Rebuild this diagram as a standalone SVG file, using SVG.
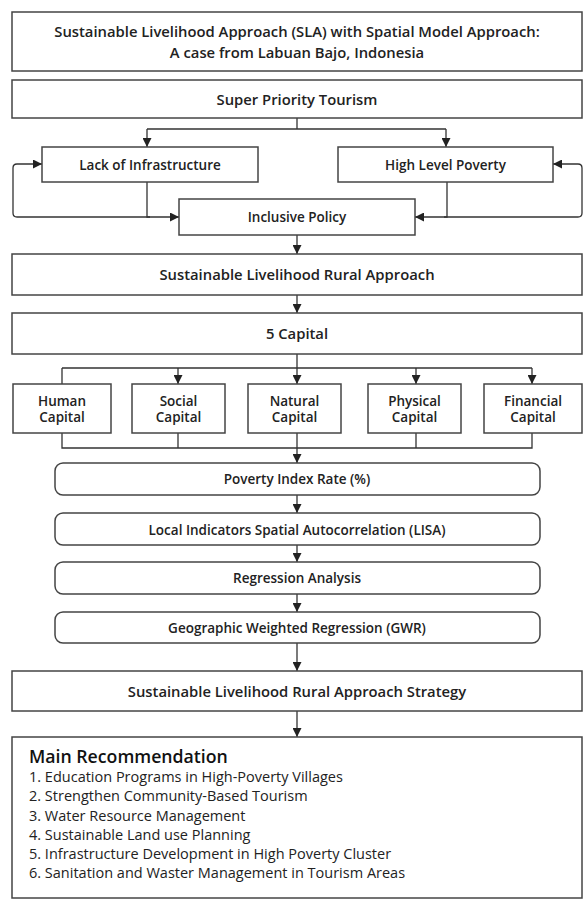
<svg xmlns="http://www.w3.org/2000/svg" width="584" height="903" viewBox="0 0 584 903">
<defs>
<marker id="ah" viewBox="0 0 10 10" refX="10" refY="5" markerWidth="9" markerHeight="9" markerUnits="userSpaceOnUse" orient="auto">
<path d="M0,0 L10,5 L0,10 z" fill="#222"/>
</marker>
<style>
.b{fill:#fff;stroke:#444;stroke-width:1.5}
.t{font-family:"Open Sans","Liberation Sans",sans-serif;font-size:13.5px;font-weight:600;fill:#222;text-anchor:middle;dominant-baseline:central}
.w{font-size:14.8px}
.l{font-family:"Open Sans","Liberation Sans",sans-serif;font-size:14.5px;fill:#222}
.h{font-family:"Open Sans","Liberation Sans",sans-serif;font-size:17.7px;font-weight:600;fill:#111}
.c{fill:none;stroke:#333;stroke-width:1.3}
.a{fill:none;stroke:#333;stroke-width:1.3;marker-end:url(#ah)}
</style>
</defs>
<rect width="584" height="903" fill="#fff"/>
<g id="connectors">
<path class="c" d="M297,118 V129 M147,129 H446"/>
<path class="a" d="M147,129 V147"/>
<path class="a" d="M446,129 V147"/>
<path class="a" d="M147,182 V217 H179"/>
<path class="a" d="M150,217 H17 Q13,217 13,213 V168 Q13,164 17,164 H42"/>
<path class="a" d="M447,182 V217 H415"/>
<path class="a" d="M444,217 H578 Q582,217 582,213 V168 Q582,164 578,164 H553"/>
<path class="a" d="M297,235 V254"/>
<path class="a" d="M297,295 V313"/>
<path class="c" d="M297,354 V368 M62,368 H532 M62,368 V384"/>
<path class="a" d="M178,368 V384"/>
<path class="a" d="M297,368 V384"/>
<path class="a" d="M416,368 V384"/>
<path class="a" d="M532,368 V384"/>
<path class="c" d="M62,433 V448 H532 V433 M178,433 V448 M416,433 V448"/>
<path class="a" d="M297,433 V463"/>
<path class="a" d="M297,495 V513"/>
<path class="a" d="M297,545 V562"/>
<path class="a" d="M297,594 V612"/>
<path class="a" d="M297,643 V671"/>
<path class="a" d="M297,711 V737"/>
</g>
<g id="title"><rect class="b" x="12" y="12" width="570" height="59"/>
<text class="t w" x="297" y="31">Sustainable Livelihood Approach (SLA) with Spatial Model Approach:</text>
<text class="t w" x="297" y="51.5">A case from Labuan Bajo, Indonesia</text></g>
<g id="super"><rect class="b" x="12" y="80" width="570" height="38"/><text class="t w" x="297" y="99">Super Priority Tourism</text></g>
<g id="lack"><rect class="b" x="42" y="147" width="216" height="35"/><text class="t" x="150" y="164.5">Lack of Infrastructure</text></g>
<g id="poverty"><rect class="b" x="338" y="147" width="215" height="35"/><text class="t" x="445.5" y="164.5">High Level Poverty</text></g>
<g id="inclusive"><rect class="b" x="179" y="199" width="236" height="36"/><text class="t" x="297" y="217">Inclusive Policy</text></g>
<g id="slra"><rect class="b" x="12" y="254" width="570" height="41"/><text class="t w" x="297" y="274">Sustainable Livelihood Rural Approach</text></g>
<g id="capital5"><rect class="b" x="12" y="313" width="570" height="41"/><text class="t w" x="297" y="333">5 Capital</text></g>
<g id="human"><rect class="b" x="13" y="384" width="98" height="49"/><text class="t" x="62" y="400.5">Human</text><text class="t" x="62" y="417">Capital</text></g>
<g id="social"><rect class="b" x="132" y="384" width="93" height="49"/><text class="t" x="178.5" y="400.5">Social</text><text class="t" x="178.5" y="417">Capital</text></g>
<g id="natural"><rect class="b" x="248" y="384" width="93" height="49"/><text class="t" x="294.5" y="400.5">Natural</text><text class="t" x="294.5" y="417">Capital</text></g>
<g id="physical"><rect class="b" x="368" y="384" width="93" height="49"/><text class="t" x="414.5" y="400.5">Physical</text><text class="t" x="414.5" y="417">Capital</text></g>
<g id="financial"><rect class="b" x="484" y="384" width="98" height="49"/><text class="t" x="533" y="400.5">Financial</text><text class="t" x="533" y="417">Capital</text></g>
<g id="pir"><rect class="b" x="55" y="463" width="485" height="32" rx="8"/><text class="t" x="297" y="479">Poverty Index Rate (%)</text></g>
<g id="lisa"><rect class="b" x="55" y="513" width="485" height="32" rx="8"/><text class="t" x="297" y="529.5">Local Indicators Spatial Autocorrelation (LISA)</text></g>
<g id="regression"><rect class="b" x="55" y="562" width="485" height="32" rx="8"/><text class="t" x="297" y="578">Regression Analysis</text></g>
<g id="gwr"><rect class="b" x="55" y="612" width="485" height="31" rx="8"/><text class="t" x="297" y="627.5">Geographic Weighted Regression (GWR)</text></g>
<g id="strategy"><rect class="b" x="12" y="671" width="570" height="40"/><text class="t w" x="297" y="691">Sustainable Livelihood Rural Approach Strategy</text></g>
<g id="recommendation"><rect class="b" x="12" y="737" width="570" height="161"/>
<text class="h" x="29" y="763">Main Recommendation</text>
<text class="l" x="29" y="781.5">1. Education Programs in High-Poverty Villages</text>
<text class="l" x="29" y="801">2. Strengthen Community-Based Tourism</text>
<text class="l" x="29" y="820.5">3. Water Resource Management</text>
<text class="l" x="29" y="840">4. Sustainable Land use Planning</text>
<text class="l" x="29" y="859">5. Infrastructure Development in High Poverty Cluster</text>
<text class="l" x="29" y="878">6. Sanitation and Waster Management in Tourism Areas</text>
</g>
</svg>
